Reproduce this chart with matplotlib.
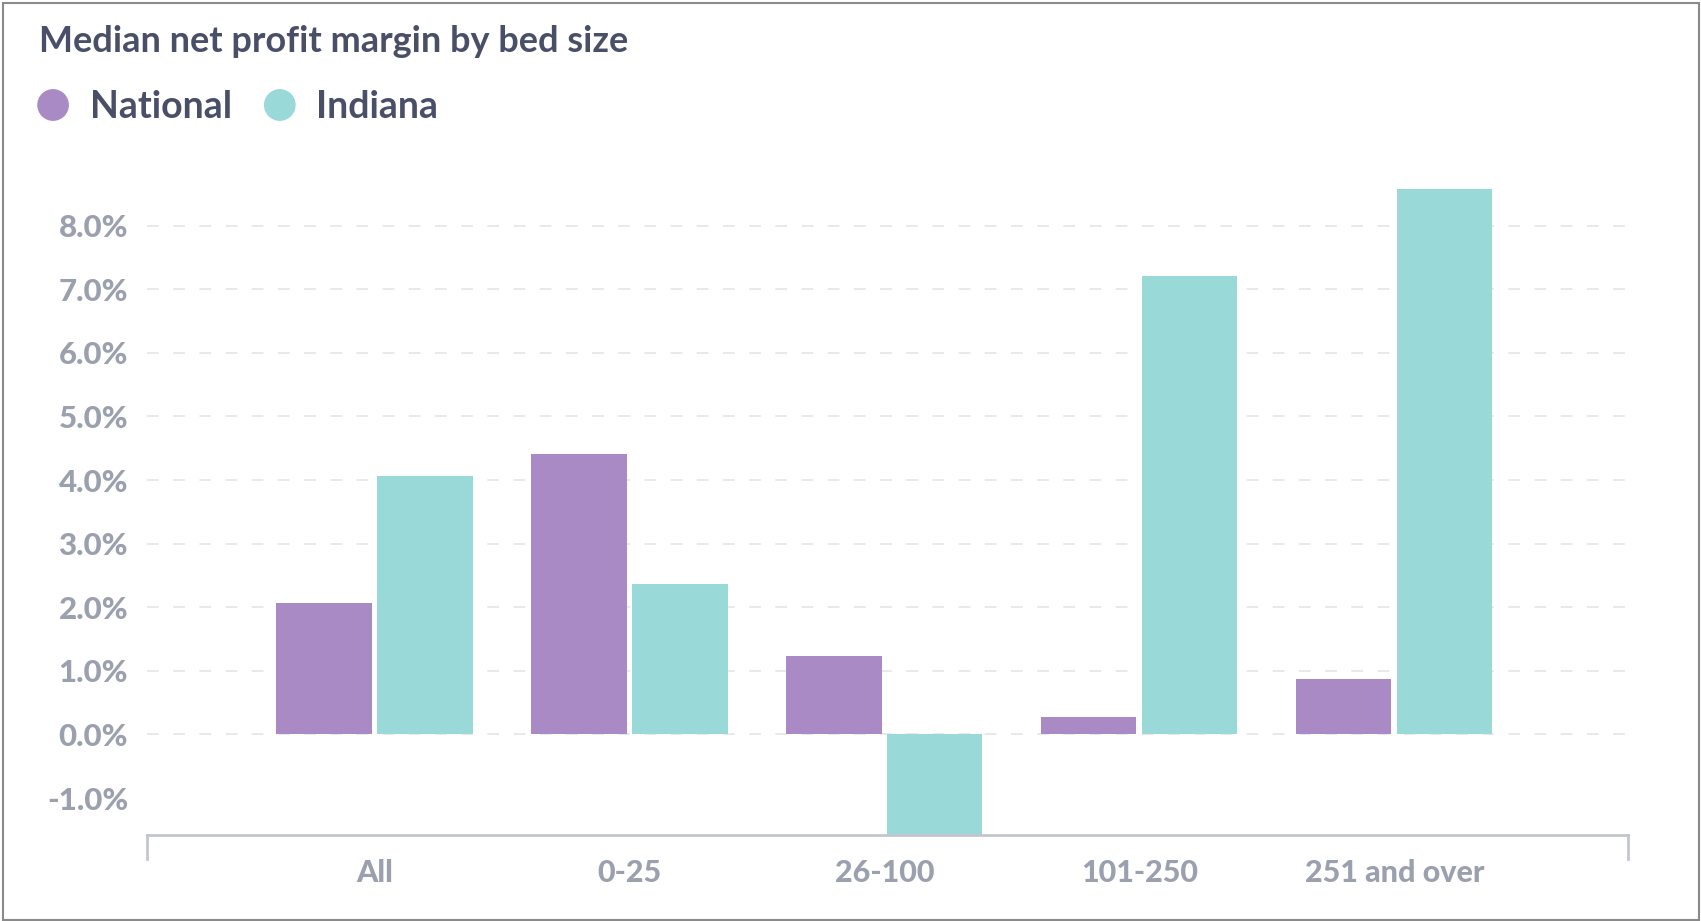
import matplotlib
matplotlib.use("Agg")
import matplotlib.pyplot as plt
from matplotlib.patches import Rectangle, Ellipse
import numpy as np

categories = ["All", "0-25", "26-100", "101-250", "251 and over"]
national = [2.07, 4.41, 1.24, 0.28, 0.87]
indiana = [4.07, 2.36, -1.6, 7.21, 8.58]
yticks = [-1, 0, 1, 2, 3, 4, 5, 6, 7, 8]
series_names = ["National", "Indiana"]

C_NAT = "#a98ac5"
C_IND = "#99d9d8"
C_TEXT = "#4a4f68"
C_TICK = "#9ba0af"
C_GRID = "#e6e7eb"
C_AXIS = "#c3c6ce"

plt.rcParams['font.family'] = ['Lato', 'DejaVu Sans']

fig = plt.figure(figsize=(17.01, 9.21), dpi=100)
ax = fig.add_axes([0.0867, 0.0934, 0.8704, 0.7307])

x = np.arange(len(categories))
off = 0.198
w = 0.374
ax.bar(x - off, national, width=w, color=C_NAT, zorder=3)
ax.bar(x + off, indiana, width=w, color=C_IND, zorder=3)

ax.set_xlim(-0.89, 4.917)
ax.set_ylim(-1.58, 9.0)

for t in range(0, 9):
    ax.axhline(t, color=C_GRID, lw=1.3, linestyle=(0, (6.5, 8)), zorder=1)

for s in ["top", "right", "left"]:
    ax.spines[s].set_visible(False)
ax.spines["bottom"].set_color(C_AXIS)
ax.spines["bottom"].set_linewidth(2)
ax.spines["bottom"].set_zorder(4)

for xe in ax.get_xlim():
    ax.plot([xe, xe], [0, -0.035], transform=ax.get_xaxis_transform(),
            color=C_AXIS, lw=2, clip_on=False)

ax.set_yticks(yticks)
ax.set_yticklabels([f"{v:.1f}%" for v in yticks])
ax.tick_params(axis="y", length=0, pad=14, labelsize=22.5, labelcolor=C_TICK)
ax.set_xticks(x)
ax.set_xticklabels(categories)
ax.tick_params(axis="x", length=0, pad=17, labelsize=22, labelcolor=C_TICK)
for lab in ax.get_yticklabels() + ax.get_xticklabels():
    lab.set_fontweight("black")

fig.text(0.023, 0.955, "Median net profit margin by bed size", fontsize=26,
         fontweight="bold", color=C_TEXT, va="center", ha="left")

for cx, col, name, tx in [(0.0312, C_NAT, "National", 0.0528),
                          (0.1645, C_IND, "Indiana", 0.1855)]:
    fig.patches.append(Ellipse((cx, 0.886), 0.0178, 0.0330,
                               transform=fig.transFigure, color=col))
    fig.text(tx, 0.884, name, fontsize=27, color=C_TEXT, va="center", ha="left",
             fontweight="bold")

fig.patches.append(Rectangle((0.002, 0.001), 0.997, 0.996, transform=fig.transFigure,
                             fill=False, edgecolor="#8a8a8a", lw=1.5))

fig.savefig("out.png", dpi=100)
